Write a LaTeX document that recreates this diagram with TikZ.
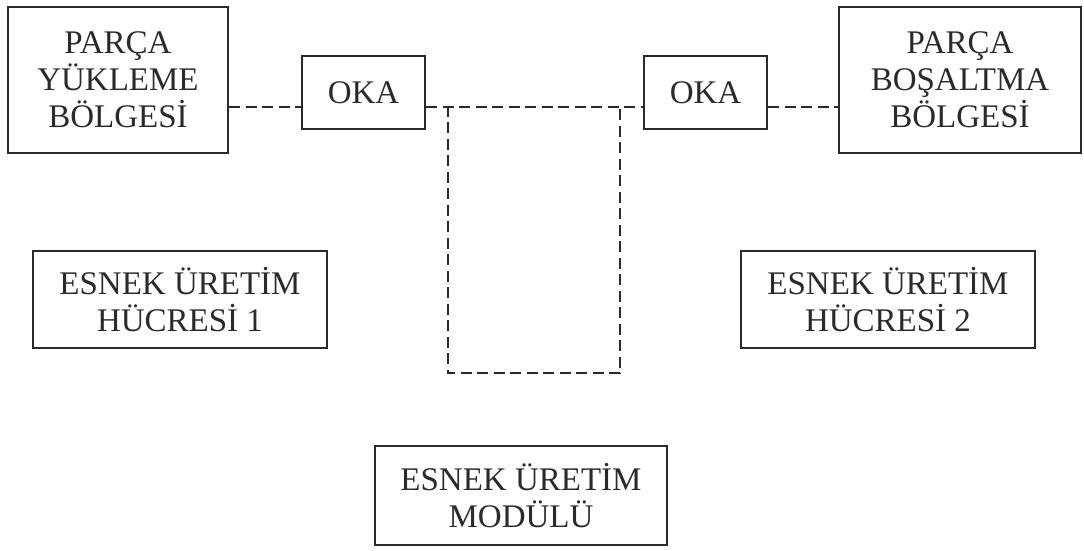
\documentclass[tikz,border=0pt]{standalone}
\usepackage{fontspec}
\setmainfont{Liberation Serif}
\usetikzlibrary{positioning}
\definecolor{ink}{HTML}{2A2A2A}
\tikzset{
  kutu/.style={draw=ink,line width=2pt,align=center,inner sep=0pt,text=ink,
    font=\fontsize{33}{37}\selectfont},
  kesik/.style={draw=ink,line width=2pt,dash pattern=on 11pt off 5.5pt}
}
\begin{document}
\begin{tikzpicture}[x=1pt,y=-1pt]
\useasboundingbox (0,0) rectangle (1084,550);
% ust sira
\node[kutu,minimum width=220,minimum height=146] (yukleme) at (118,80) {PARÇA\\YÜKLEME\\BÖLGESİ};
\node[kutu,minimum width=242,minimum height=146] (bosaltma) at (960,80) {PARÇA\\BOŞALTMA\\BÖLGESİ};
\foreach \ad/\xx in {okaL/363.5,okaR/705.5}
  \node[kutu,minimum width=123,minimum height=73] (\ad) at (\xx,92.5) {OKA};
% hucreler ve modul
\node[kutu,minimum width=294,minimum height=97] (hucre1) at (180,299.5) {ESNEK ÜRETİM\\HÜCRESİ 1};
\node[kutu,minimum width=294,minimum height=97] (hucre2) at (888,299.5) {ESNEK ÜRETİM\\HÜCRESİ 2};
\node[kutu,minimum width=292,minimum height=99] (modul) at (521,495.5) {ESNEK ÜRETİM\\MODÜLÜ};
% tasima hatti
\coordinate (hat) at (0,107);
\node[minimum width=172,minimum height=267,inner sep=0pt] (yol) at (534,239.5) {};
\draw[kesik] (yukleme.east |- hat) -- (okaL.west |- hat);
\draw[kesik] (okaL.east |- hat) -- (okaR.west |- hat);
\draw[kesik] (okaR.east |- hat) -- (bosaltma.west |- hat);
\draw[kesik] (yol.north west) -- (yol.south west) -- (yol.south east) -- (yol.north east);
\end{tikzpicture}
\end{document}
